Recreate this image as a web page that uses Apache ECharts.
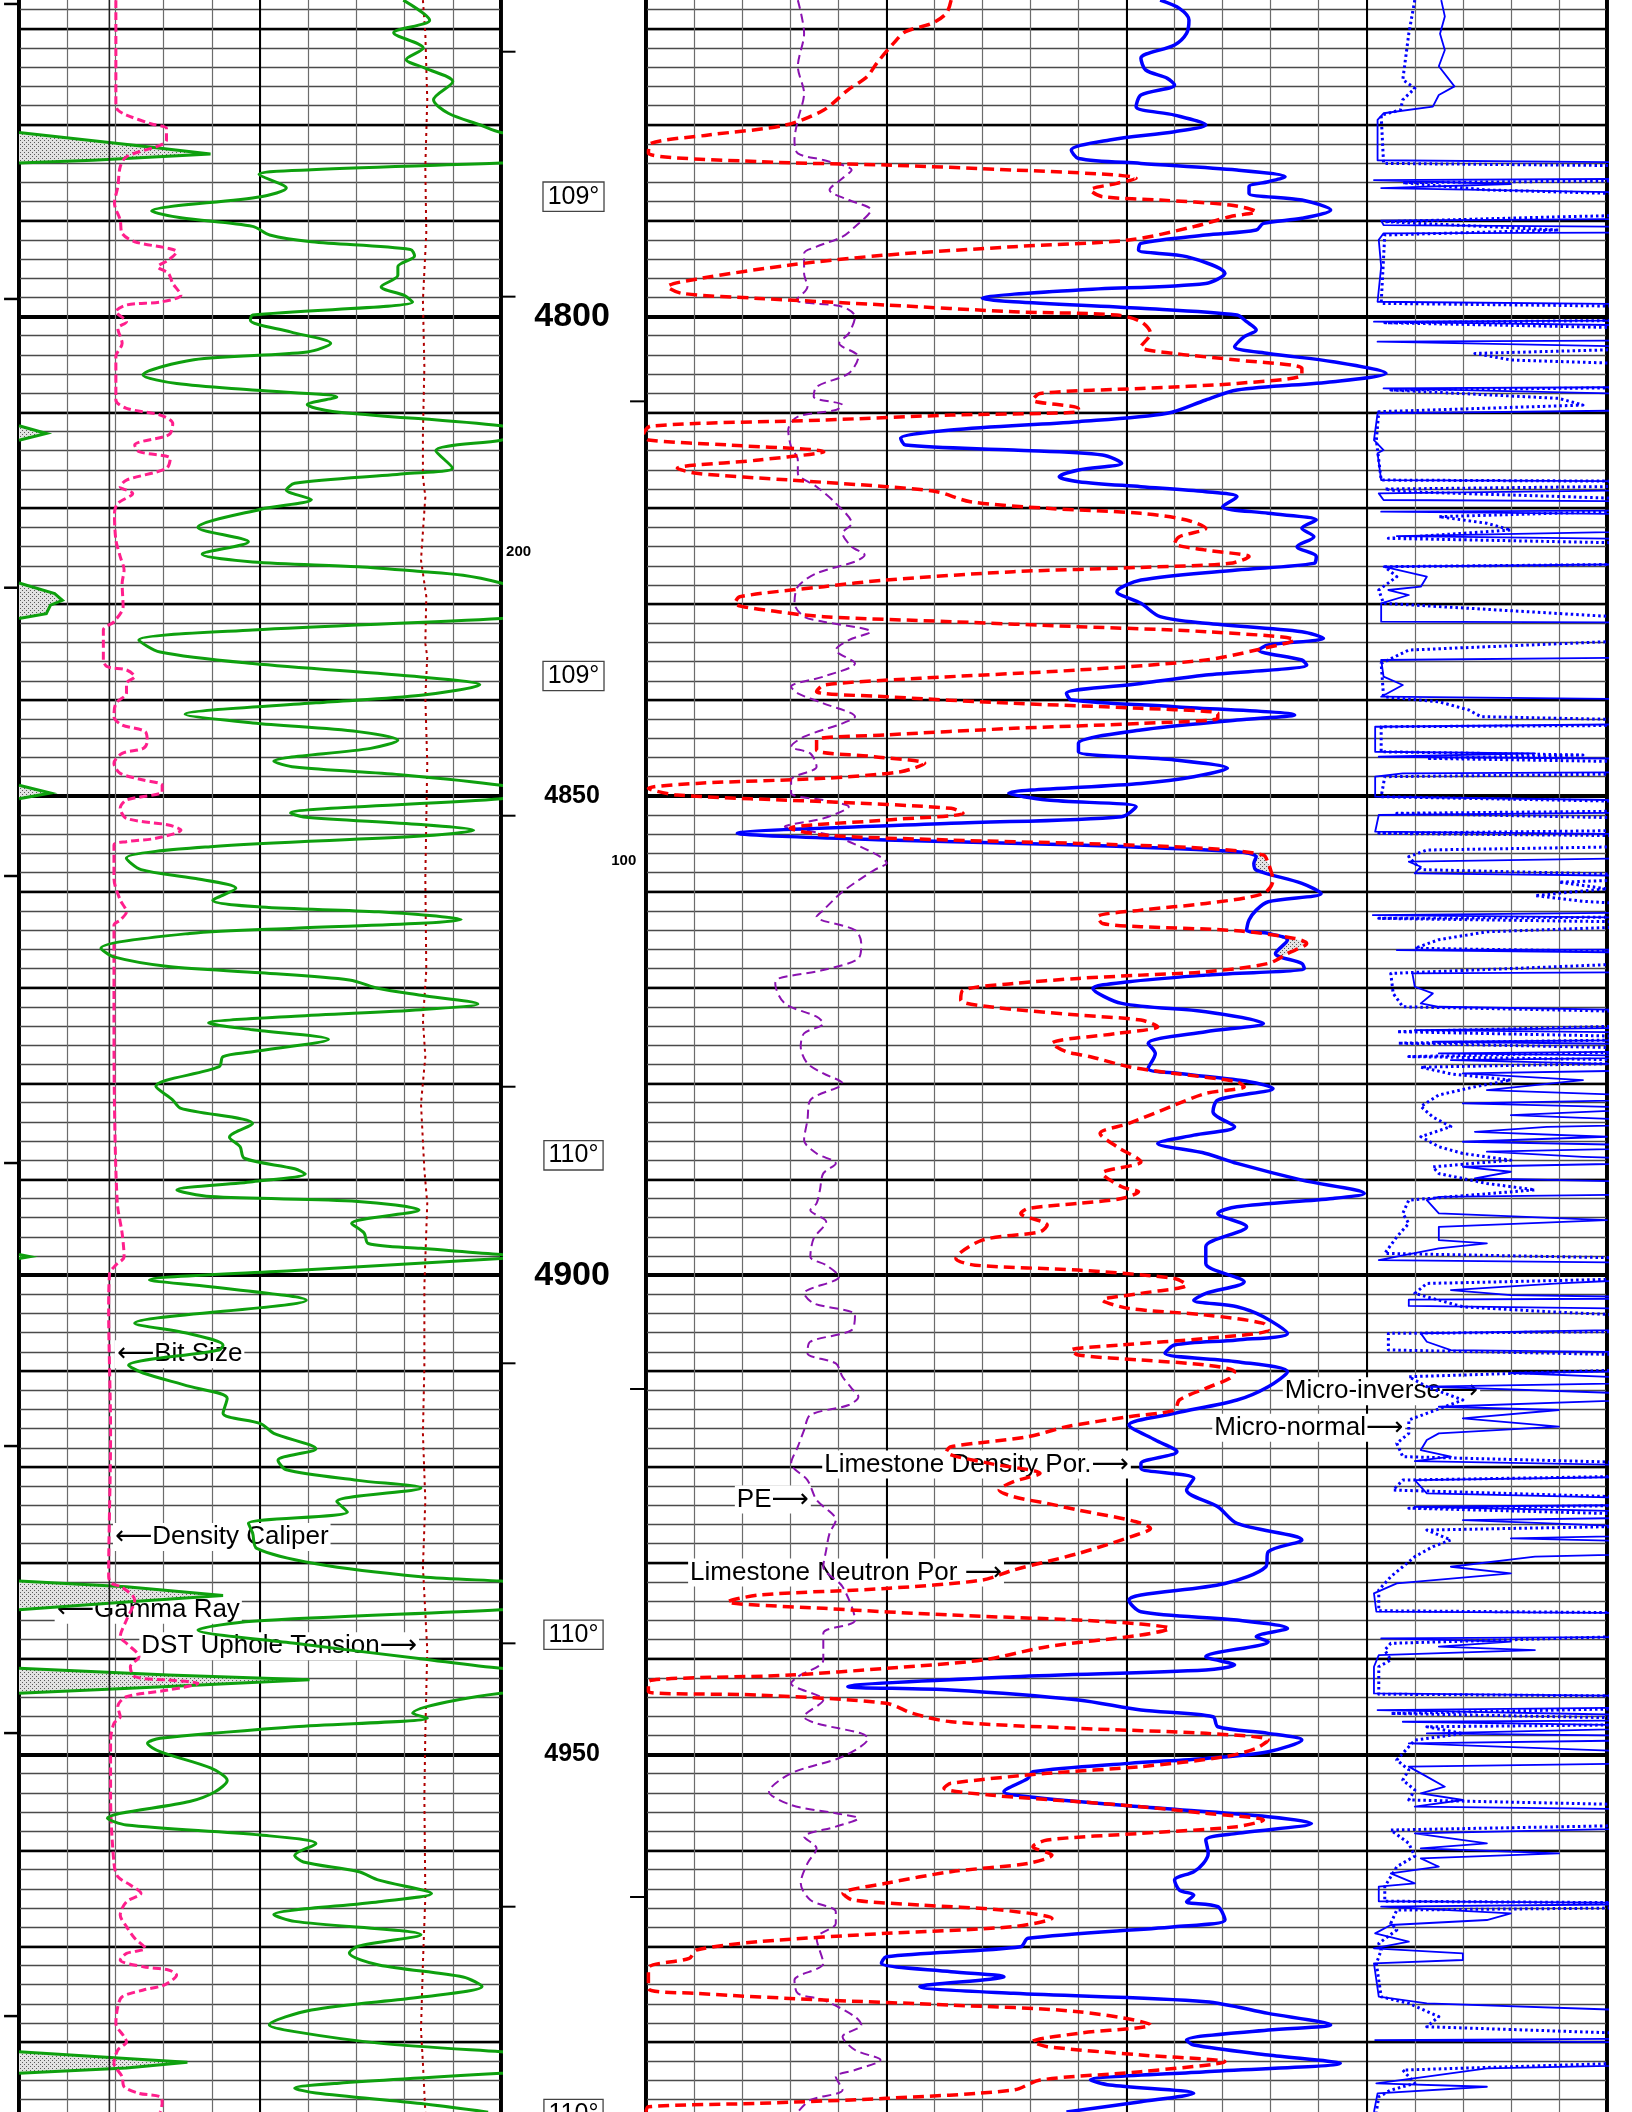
<!DOCTYPE html>
<html>
<head>
<meta charset="utf-8">
<title>Well log 4767-4987 ft</title>
<script src="https://cdn.jsdelivr.net/npm/echarts@6/dist/echarts.min.js"></script>
<style>
  html, body { margin: 0; padding: 0; background: #fff; }
  #log { width: 1632px; height: 2112px; }
</style>
</head>
<body>
<div id="log"></div>
<script>
// ---------------- curve data: [depth ft, value] ----------------

// Gamma ray, API (values above 150 wrap onto the backup scale)
const GAMMA_RAY = [
  [4767.0,119.6],[4769.1,127.8],[4770.4,116.6],[4772.0,125.8],[4773.2,120.5],[4774.1,126.4],[4775.5,135.0],
  [4777.4,129.0],[4778.8,133.6],[4780.0,143.4],[4780.8,150],[4782.3,190],[4783.05,209.6],[4783.7,173],
  [4784.0,150],[4784.7,91],[4785.2,74.7],[4786.6,83.2],[4787.5,75.3],[4789.0,41.3],[4789.7,50.4],
  [4790.6,72.7],[4791.5,78],[4792.2,91],[4793.0,121.8],[4793.7,123.1],[4794.8,117.9],[4795.7,117.9],
  [4796.9,112.7],[4797.8,119.9],[4798.5,122.5],[4799.85,72.7],[4800.4,72],[4801.6,84.5],[4802.8,97],
  [4803.7,89.7],[4804.5,54.4],[4806.1,38.6],[4807.0,49.1],[4807.7,74],[4808.4,98.9],[4809.2,89.7],
  [4809.9,97.6],[4811.4,150],[4812.2,158.5],[4812.9,150],[4814.0,129.7],[4815.8,134.9],[4816.4,119.9],
  [4817.4,85.8],[4818.1,83.2],[4819.1,91],[4820.1,75.3],[4822.0,55.7],[4823.5,71.4],[4824.8,57],
  [4825.6,72.7],[4826.1,105.5],[4826.6,125.1],[4827.0,138.2],[4827.8,150],[4828.9,161.1],[4829.6,163.5],
  [4830.1,159.8],[4831.0,158.5],[4831.5,150],[4832.7,72.7],[4833.75,37.3],[4835.0,43.9],[4836.2,72.7],
  [4837.6,125.1],[4838.4,143.4],[4839.5,125.1],[4840.3,92.4],[4841.5,51.7],[4842.4,72.7],[4843.3,105.5],
  [4844.2,117.9],[4845.05,109.4],[4846.4,79.3],[4847.0,85.8],[4847.8,118.6],[4848.9,150],[4849.7,159.8],
  [4850.3,150],[4851.8,84.5],[4852.2,88.5],[4853.0,125.1],[4853.6,141.5],[4854.2,125.1],[4855.3,59.6],
  [4856.5,33.4],[4857.7,38],[4858.6,54.4],[4859.65,67.5],[4860.9,60.3],[4861.6,75.3],[4862.1,112],
  [4862.9,137.6],[4863.3,125.1],[4863.8,85.8],[4864.35,53.1],[4865.9,25.5],[4866.8,29.5],[4867.8,46.5],
  [4868.45,75.3],[4869.2,102.8],[4870.1,112],[4870.8,125.1],[4871.7,142.8],[4872.3,125.1],[4873.0,85.8],
  [4873.7,59],[4874.4,72.7],[4875.4,96.3],[4876.7,72.7],[4877.2,63.5],[4878.25,62.3],[4880.3,42.6],
  [4881.7,47.8],[4882.6,50.4],[4884.2,72.7],[4885.6,65.5],[4886.6,68.8],[4887.8,70.1],[4888.9,85.8],
  [4889.45,89.1],[4890.25,72.7],[4891.1,49.1],[4891.8,59.6],[4892.3,105.5],[4893.2,124.5],[4894.6,103.5],
  [4895.6,107.4],[4896.7,108.7],[4897.2,125.1],[4897.85,150],[4898.07,153.3],[4898.25,150],[4899.5,85.8],
  [4900.5,40.6],[4901.2,59.6],[4902.6,89.4],[4905.0,36],[4906.1,53.1],[4907.3,63.5],[4907.8,62.3],
  [4909.4,34.1],[4910.2,38.6],[4911.6,53.1],[4912.85,64.8],[4914.4,63.5],[4915.5,75.3],[4916.5,79.3],
  [4918.1,92.4],[4919.3,80.6],[4920.3,83.2],[4921.4,105.5],[4922.2,125.1],[4923.6,98.9],[4924.7,102.2],
  [4925.9,71.4],[4926.9,72.7],[4928.5,74],[4930.1,92.4],[4931.45,125.1],[4931.9,150],[4932.5,183.4],
  [4933.4,213.5],[4934.1,183.4],[4934.9,150],[4936.1,72.7],[4937.0,55.7],[4938.4,85.8],[4940.0,125.1],
  [4941.0,150],[4941.7,196.5],[4942.2,240.4],[4942.9,196.5],[4943.6,150],[4945.7,122.5],[4946.2,127.1],
  [4947.1,85.8],[4948.3,43.9],[4948.83,40],[4949.7,43.9],[4951.4,59.6],[4952.7,64.8],[4953.9,60.9],
  [4954.9,53.1],[4956.65,27.5],[4957.35,33.4],[4958.4,75.3],[4959.3,92.4],[4960.5,85.8],[4961.2,88.5],
  [4962.2,105.5],[4963.1,112],[4964.5,128.4],[4965.35,112],[4966.7,79.3],[4967.4,85.8],[4968.8,125.1],
  [4970.0,105.5],[4970.7,102.8],[4971.95,112],[4973.2,138.2],[4974.2,144.1],[4975.3,125.1],[4976.65,91],
  [4978.2,77.9],[4978.9,85.8],[4980.1,112],[4981.0,150],[4981.7,183.4],[4982.1,202.4],[4982.7,183.4],
  [4983.25,150],[4984.3,98.9],[4984.8,85.8],[4985.3,92.4],[4986.4,125.1],[4987.3,146]
];

// Density caliper, inches
const DENSITY_CALIPER = [
  [4767.0,8.01],[4777.94,8.01],[4778.46,8.05],[4778.99,8.23],[4779.92,8.75],[4780.38,9.06],[4781.59,9.06],
  [4783.33,8.23],[4784.38,8.10],[4786.46,8.05],[4788.2,7.98],[4789.94,8.10],[4791.33,8.14],[4792.2,8.40],
  [4792.89,9.10],[4793.24,9.27],[4794.11,9.10],[4794.81,8.88],[4795.5,9.10],[4796.55,9.19],[4797.76,9.36],
  [4798.46,8.97],[4798.8,8.23],[4799.5,8.01],[4800.54,8.23],[4801.24,8.05],[4802.8,8.14],[4804.19,8.01],
  [4808.71,8.01],[4809.58,8.23],[4810.28,8.93],[4811.15,9.19],[4812.19,9.14],[4812.54,9.01],[4813.4,8.40],
  [4814.1,8.49],[4814.8,9.14],[4815.84,9.06],[4817.06,8.23],[4817.75,8.10],[4818.45,8.36],[4819.49,8.05],
  [4820.53,7.98],[4823.31,8.01],[4825.05,8.10],[4826.44,8.18],[4827.83,8.14],[4830.27,8.16],[4831.83,7.97],
  [4832.7,7.75],[4835.83,7.75],[4836.53,7.83],[4836.87,8.23],[4837.57,8.40],[4838.27,8.23],[4839.31,8.23],
  [4840.35,8.01],[4841.74,7.97],[4842.61,8.14],[4843.31,8.62],[4844.35,8.66],[4845.05,8.58],[4845.57,8.14],
  [4846.61,7.97],[4847.65,8.10],[4848.35,8.58],[4848.87,8.97],[4849.57,8.97],[4850.44,8.23],[4851.3,8.10],
  [4852.35,8.23],[4853.04,9.10],[4853.57,9.36],[4854.43,8.84],[4854.78,8.23],[4855.13,7.97],[4858.61,7.97],
  [4860.87,8.10],[4862.09,8.23],[4862.96,8.10],[4863.48,7.97],[4871.65,7.97],[4882.08,7.98],[4892.51,8.04],
  [4895.64,8.14],[4898.07,8.18],[4898.94,8.01],[4899.81,7.88],[4903.64,7.86],[4916.5,7.90],[4931.45,7.86],
  [4932.15,7.92],[4932.56,8.14],[4933.88,8.40],[4935.97,8.23],[4937.71,8.10],[4938.4,8.23],[4939.79,8.49],
  [4940.84,8.31],[4941.88,8.40],[4942.23,9.10],[4942.58,9.71],[4943.27,9.10],[4943.97,8.23],[4945.01,8.05],
  [4946.06,8.10],[4946.75,7.97],[4948.49,7.90],[4954.39,7.90],[4961.35,7.97],[4962.74,8.05],[4963.61,8.31],
  [4964.48,8.53],[4965.35,8.23],[4966.74,8.10],[4967.95,8.23],[4969.17,8.40],[4970.21,8.62],[4970.74,8.23],
  [4971.43,8.10],[4972.13,8.58],[4972.47,9.10],[4973.0,9.27],[4974.04,9.01],[4974.56,8.58],[4975.26,8.14],
  [4976.3,8.05],[4978.04,8.01],[4979.43,8.18],[4979.95,8.23],[4980.82,8.05],[4982.21,7.97],[4983.6,8.14],
  [4984.65,8.18],[4985.34,8.49],[4985.69,8.93],[4986.38,8.97],[4987.28,8.93]
];

// Bit size, inches
const BIT_SIZE = 7.875;

// DST uphole tension, lbs
const DST_TENSION = [
  [4767.0,8380],[4770.5,8430],[4777.4,8470],[4784.4,8430],[4791.3,8450],[4798.3,8380],[4805.2,8410],
  [4812.2,8380],[4816.7,8380],[4818.8,8430],[4825.4,8340],[4829.2,8450],[4834.1,8430],[4835.5,8470],
  [4839.7,8430],[4846.6,8470],[4858.6,8430],[4868.2,8450],[4873.4,8380],[4877.2,8430],[4882.1,8340],
  [4889.0,8410],[4892.5,8470],[4901.2,8410],[4909.5,8410],[4916.5,8380],[4923.5,8430],[4930.4,8380],
  [4939.1,8470],[4947.8,8430],[4954.4,8410],[4964.8,8430],[4971.8,8380],[4978.7,8340],[4982.2,8380],
  [4987.3,8430]
];

// Limestone neutron porosity, %
const NEUTRON_POR = [
  [4767.0,17.3],[4768.38,17.5],[4769.42,18.1],[4770.29,19.2],[4771.51,19.7],[4773.6,20.4],[4774.99,20.8],
  [4776.38,21.6],[4778.46,22.6],[4780.03,24.2],[4781.07,27.4],[4781.94,29.8],[4782.98,29.9],[4783.85,25.3],
  [4784.2,20.0],[4784.72,14.7],[4785.24,10.4],[4785.59,9.6],[4786.11,10.4],[4786.81,11.5],[4787.5,11.0],
  [4787.85,8.6],[4788.37,5.7],[4789.07,4.6],[4789.59,5.7],[4790.63,7.2],[4792.02,9.9],[4792.72,14.7],
  [4793.59,20.0],[4794.63,24.0],[4796.02,27.7],[4796.89,29.1],[4797.59,28.5],[4798.11,25.3],[4798.8,20.0],
  [4799.5,14.7],[4799.85,10.4],[4800.54,9.4],[4801.76,9.0],[4803.15,9.4],[4803.85,8.0],[4804.54,5.4],
  [4805.41,2.7],[4806.11,2.7],[4806.98,5.4],[4807.5,9.4],[4808.02,13.6],[4808.71,13.9],[4809.58,12.0],
  [4809.93,12.0],[4810.28,17.3],[4810.8,22.6],[4811.43,29.8],[4812.3,30.1],[4812.88,29.9],[4813.4,26.6],
  [4814.1,22.6],[4814.97,25.3],[4815.84,28.7],[4816.36,27.9],[4817.06,24.0],[4817.75,20.0],[4818.27,17.9],
  [4819.32,16.5],[4820.01,13.3],[4820.53,9.4],[4821.23,7.5],[4822.1,6.7],[4822.97,7.8],[4823.66,8.0],
  [4824.36,6.7],[4825.05,4.9],[4825.75,5.7],[4826.17,9.4],[4826.62,14.7],[4827.49,20.0],[4828.18,22.6],
  [4829.23,26.1],[4829.92,26.3],[4830.79,24.5],[4831.31,22.6],[4831.83,17.3],[4832.35,12.0],[4832.88,6.7],
  [4833.75,3.0],[4834.79,4.6],[4835.83,6.7],[4836.87,12.0],[4837.74,18.6],[4838.44,22.6],[4839.13,22.9],
  [4839.66,20.0],[4840.35,14.7],[4840.87,9.4],[4841.4,6.2],[4841.92,6.2],[4842.44,9.4],[4842.96,14.7],
  [4843.65,20.0],[4844.18,22.9],[4845.22,22.9],[4845.91,20.5],[4846.61,18.4],[4847.48,19.4],[4848.17,22.6],
  [4848.7,27.9],[4849.22,29.9],[4849.91,28.7],[4850.61,22.6],[4851.3,17.3],[4851.82,16.8],[4852.52,20.0],
  [4853.39,24.0],[4854.09,22.6],[4854.61,17.3],[4854.96,12.0],[4855.48,6.7],[4856.17,4.3],[4857.04,4.1],
  [4857.74,4.0],[4858.79,3.9],[4860.18,4.3],[4861.22,6.7],[4861.92,9.4],[4862.61,11.2],[4863.31,11.0],
  [4863.65,9.4],[4864.07,5.4],[4864.87,3.0],[4865.39,2.5],[4866.44,3.3],[4867.48,4.1],[4868.35,6.7],
  [4868.7,9.4],[4869.04,12.0],[4869.57,14.7],[4870.26,16.8],[4871.3,16.9],[4872.0,15.7],[4872.87,12.0],
  [4873.39,9.4],[4874.09,8.7],[4874.78,10.4],[4875.82,13.1],[4876.69,12.5],[4877.21,11.5],[4878.26,9.9],
  [4878.95,8.0],[4879.82,5.4],[4880.34,5.1],[4881.04,6.7],[4882.26,8.0],[4884.17,9.9],[4885.21,11.1],
  [4886.6,10.4],[4888.17,9.4],[4889.38,11.0],[4890.78,10.2],[4891.3,9.5],[4892.0,10.2],[4892.51,12.0],
  [4893.04,14.1],[4893.56,14.4],[4894.77,13.3],[4895.47,13.6],[4896.34,16.0],[4898.25,17.1],[4898.95,16.3],
  [4899.47,12.0],[4900.34,8.0],[4901.03,7.5],[4901.9,9.4],[4902.6,11.0],[4903.46,9.9],[4904.15,6.7],
  [4905.02,4.3],[4905.72,4.1],[4906.59,6.7],[4907.28,10.2],[4907.81,12.3],[4908.33,12.0],[4908.85,9.4],
  [4909.37,6.7],[4910.07,5.5],[4910.76,5.7],[4911.8,6.7],[4913.02,7.8],[4914.06,8.0],[4914.76,9.9],
  [4915.8,12.5],[4916.85,14.1],[4917.89,17.3],[4918.41,17.5],[4919.63,15.7],[4920.67,13.6],[4921.54,14.7],
  [4922.41,15.3],[4923.11,14.7],[4923.8,13.3],[4924.5,12.0],[4925.71,9.6],[4926.41,9.0],[4927.1,9.6],
  [4929.02,12.0],[4930.75,14.7],[4931.8,16.0],[4932.67,20.0],[4933.36,25.3],[4934.06,26.6],[4934.75,22.6],
  [4935.45,17.3],[4935.97,12.0],[4936.39,9.4],[4936.84,8.2],[4937.53,9.4],[4938.75,13.3],[4940.14,16.0],
  [4941.01,20.0],[4941.71,24.0],[4942.4,29.9],[4943.45,29.9],[4943.79,25.3],[4944.66,20.0],[4945.71,18.9],
  [4946.58,17.3],[4947.27,12.0],[4947.79,6.7],[4948.48,4.1],[4949.35,4.6],[4950.22,5.9],[4951.26,9.4],
  [4951.96,13.3],[4953.0,17.3],[4953.52,17.6],[4954.22,15.7],[4954.92,12.0],[4955.44,9.4],[4956.13,6.7],
  [4956.83,4.3],[4957.52,5.4],[4958.22,9.4],[4958.91,13.3],[4959.61,13.9],[4960.48,13.1],[4961.35,14.1],
  [4962.22,17.3],[4963.43,20.0],[4964.48,21.8],[4965.17,21.4],[4965.69,18.6],[4966.22,15.2],[4967.08,13.1],
  [4967.95,14.7],[4968.65,20.0],[4969.52,25.3],[4970.39,27.9],[4971.26,28.2],[4972.3,29.9],[4974.39,29.9],
  [4974.91,27.9],[4975.6,22.6],[4976.13,17.3],[4976.82,12.0],[4978.21,9.0],[4979.08,12.0],[4979.95,13.9],
  [4980.47,13.3],[4981.34,9.4],[4982.04,5.9],[4983.08,9.4],[4983.95,13.6],[4984.99,14.7],[4985.86,20.0],
  [4986.38,25.3],[4986.73,29.9],[4987.28,30.0]
];

// Limestone density porosity, %
const DENSITY_POR = [
  [4767.0,8.6],[4767.86,7.8],[4769.08,7.4],[4770.47,7.5],[4771.68,8.0],[4773.07,9.4],[4774.29,9.2],
  [4775.16,8.3],[4775.86,8.0],[4776.9,9.4],[4778.12,9.6],[4778.99,8.0],[4780.03,6.7],[4780.72,8.0],
  [4781.59,10.7],[4782.64,12.3],[4783.51,12.0],[4784.03,9.4],[4784.72,5.4],[4785.42,3.4],[4785.94,4.1],
  [4786.46,4.9],[4787.16,4.9],[4787.85,2.7],[4788.9,1.5],[4789.76,2.7],[4790.29,4.3],[4790.98,4.6],
  [4791.5,6.7],[4792.37,9.4],[4793.07,9.5],[4793.76,7.5],[4795.5,5.9],[4796.55,6.7],[4797.24,12.0],
  [4798.11,16.0],[4798.46,14.7],[4799.15,9.4],[4799.85,5.4],[4800.54,5.0],[4801.41,4.6],[4802.11,5.1],
  [4803.15,5.5],[4803.85,4.1],[4804.72,1.4],[4805.93,-0.8],[4806.8,1.4],[4807.67,5.4],[4808.71,6.7],
  [4810.1,8.3],[4810.97,12.0],[4811.84,17.3],[4812.71,19.4],[4813.4,19.2],[4813.93,14.7],[4814.45,11.0],
  [4815.32,10.2],[4816.01,12.0],[4816.71,12.8],[4817.23,12.0],[4817.75,9.4],[4818.27,6.7],[4818.8,5.4],
  [4819.84,6.0],[4820.53,4.1],[4821.23,2.1],[4822.1,2.7],[4822.97,2.2],[4824.01,2.9],[4825.05,2.1],
  [4825.75,2.2],[4826.44,5.4],[4827.49,9.4],[4828.7,10.4],[4829.92,9.4],[4831.31,8.6],[4832.0,6.7],
  [4832.88,2.7],[4833.57,1.8],[4834.27,4.1],[4834.79,4.5],[4835.83,2.7],[4836.35,2.5],[4837.4,6.7],
  [4838.27,9.4],[4839.31,12.5],[4840.0,12.3],[4840.7,8.0],[4841.57,3.0],[4842.09,5.4],[4843.13,9.4],
  [4844.52,12.0],[4845.39,12.0],[4846.26,8.0],[4847.13,5.8],[4848.0,7.2],[4848.7,9.4],[4849.74,14.9],
  [4850.44,13.3],[4851.13,9.6],[4852.17,10.2],[4852.87,17.3],[4853.91,26.2],[4854.61,20.0],[4855.13,12.0],
  [4855.82,5.4],[4856.35,4.6],[4857.04,4.7],[4857.74,4.6],[4859.13,2.7],[4860.18,1.9],[4861.05,4.1],
  [4861.92,4.6],[4862.96,4.9],[4864.0,5.0],[4864.35,4.1],[4865.04,3.3],[4866.44,3.8],[4867.48,2.7],
  [4868.0,2.6],[4868.7,6.7],[4869.39,9.9],[4870.09,11.4],[4871.65,10.2],[4872.52,6.7],[4873.74,4.3],
  [4874.61,6.7],[4875.82,9.1],[4876.87,8.8],[4878.43,9.1],[4878.95,7.8],[4879.82,4.9],[4880.52,3.9],
  [4881.73,6.2],[4882.95,6.4],[4884.52,5.5],[4885.39,7.2],[4886.26,8.7],[4887.3,6.7],[4888.34,5.4],
  [4890.08,2.7],[4891.47,0.1],[4891.99,1.4],[4892.86,5.4],[4893.56,6.2],[4894.95,5.0],[4897.03,6.7],
  [4898.77,6.7],[4900.69,5.1],[4901.9,6.7],[4902.6,7.2],[4903.29,5.4],[4904.33,4.3],[4906.07,3.3],
  [4906.76,5.4],[4907.28,8.0],[4908.15,8.4],[4909.02,5.4],[4910.07,3.3],[4911.63,4.1],[4913.02,5.4],
  [4914.41,8.0],[4915.63,9.9],[4917.19,8.8],[4918.41,7.9],[4919.63,9.4],[4920.15,9.4],[4921.19,7.2],
  [4922.41,7.5],[4924.15,6.2],[4925.89,5.4],[4927.62,2.7],[4928.84,4.1],[4930.41,4.2],[4932.15,5.9],
  [4933.36,9.4],[4933.88,9.9],[4935.1,9.4],[4935.97,5.4],[4936.84,3.3],[4937.71,4.6],[4938.23,4.1],
  [4939.79,6.7],[4940.66,5.5],[4941.18,6.7],[4941.88,14.7],[4942.92,21.6],[4943.27,17.3],[4944.31,12.0],
  [4945.36,9.4],[4946.06,6.4],[4947.1,6.2],[4947.79,4.1],[4948.48,2.7],[4949.7,4.1],[4950.4,6.7],
  [4950.92,9.9],[4951.79,13.9],[4952.48,14.1],[4953.87,15.1],[4954.39,14.1],[4955.44,9.4],[4956.48,4.1],
  [4957.18,2.3],[4958.22,5.4],[4958.91,6.7],[4960.31,6.6],[4961.35,6.8],[4962.22,7.2],[4963.09,8.0],
  [4964.13,7.8],[4964.65,7.2],[4965.35,7.5],[4965.87,6.2],[4967.26,5.9],[4967.95,8.0],[4969.17,14.1],
  [4970.04,14.4],[4971.08,20.0],[4971.78,20.2],[4972.65,17.3],[4973.17,15.1],[4974.21,18.6],[4974.91,14.7],
  [4975.78,6.7],[4977.0,4.1],[4978.21,1.5],[4978.74,4.1],[4979.78,7.5],[4980.3,7.2],[4981.34,4.1],
  [4982.21,1.1],[4983.08,6.7],[4983.95,11.5],[4984.47,10.7],[4985.34,7.2],[4986.21,9.4],[4987.28,12.5]
];

// Photoelectric factor, b/e
const PE = [
  [4767.0,3.16],[4770.47,3.29],[4773.94,3.16],[4776.73,3.29],[4779.51,3.16],[4781.59,3.09],[4782.98,3.16],
  [4783.68,3.69],[4784.72,4.28],[4785.59,4.09],[4786.81,3.82],[4787.85,4.22],[4788.9,4.68],[4790.63,4.35],
  [4791.68,4.09],[4792.72,3.55],[4793.42,3.29],[4795.5,3.29],[4796.89,3.36],[4798.28,3.13],[4798.98,4.09],
  [4800.02,4.35],[4801.76,4.22],[4802.8,4.02],[4804.19,4.42],[4805.93,4.22],[4807.32,3.55],[4808.37,3.49],
  [4809.23,4.09],[4809.76,3.95],[4810.45,3.16],[4811.84,2.96],[4813.58,3.02],[4814.97,3.16],[4816.36,3.16],
  [4817.75,3.55],[4819.49,3.95],[4821.58,4.28],[4822.62,4.09],[4824.01,4.28],[4824.88,4.55],[4825.57,4.35],
  [4826.79,3.55],[4828.18,3.16],[4829.92,3.09],[4831.31,3.29],[4831.83,3.69],[4832.88,4.68],[4833.75,4.22],
  [4834.79,3.95],[4836.18,4.35],[4837.57,3.69],[4838.61,3.02],[4839.31,3.16],[4840.35,3.69],[4841.74,4.35],
  [4842.44,4.09],[4843.83,3.29],[4844.87,3.02],[4845.57,3.42],[4846.96,3.55],[4848.35,3.02],[4849.74,3.02],
  [4850.44,3.69],[4851.13,4.22],[4852.35,3.69],[4853.22,2.89],[4853.57,3.29],[4854.26,3.95],[4856.0,4.75],
  [4857.0,5.01],[4857.74,4.75],[4860.0,4.09],[4861.92,3.69],[4862.61,3.55],[4864.0,4.35],[4865.39,4.48],
  [4866.96,4.42],[4868.17,3.69],[4869.04,2.76],[4869.57,2.69],[4871.65,2.89],[4873.04,3.55],[4873.74,3.69],
  [4874.78,3.29],[4876.17,3.22],[4877.91,3.36],[4878.95,3.69],[4880.0,4.09],[4881.73,3.42],[4883.82,3.36],
  [4885.91,3.29],[4887.3,3.55],[4888.34,3.95],[4889.38,3.69],[4891.12,3.62],[4892.51,3.55],[4893.21,3.42],
  [4894.43,3.75],[4896.16,3.49],[4898.08,3.42],[4898.95,3.75],[4900.16,4.02],[4901.9,3.29],[4902.94,3.49],
  [4904.15,4.35],[4905.72,4.28],[4906.94,3.42],[4908.15,3.36],[4909.2,3.95],[4910.59,4.09],[4911.8,4.28],
  [4912.67,4.42],[4913.54,4.22],[4914.58,3.42],[4916.15,3.29],[4917.89,3.16],[4919.63,3.02],[4921.37,3.36],
  [4923.45,3.55],[4925.54,3.95],[4926.93,3.82],[4928.67,3.75],[4930.41,3.69],[4932.49,4.09],[4935.97,4.35],
  [4937.36,3.69],[4940.14,3.69],[4941.88,3.16],[4942.58,3.02],[4944.31,3.69],[4946.06,3.29],[4946.75,3.55],
  [4947.79,4.48],[4948.31,4.62],[4950.22,4.09],[4951.96,3.02],[4953.87,2.56],[4955.26,3.02],[4956.13,3.95],
  [4956.65,4.42],[4957.52,3.95],[4958.57,3.29],[4959.78,3.55],[4961.35,3.36],[4963.43,3.22],[4965.17,3.42],
  [4966.39,3.95],[4967.61,3.95],[4969.17,3.55],[4971.78,3.69],[4973.52,3.09],[4974.91,3.16],[4975.6,3.69],
  [4977.34,4.35],[4978.21,4.48],[4979.43,4.09],[4980.82,4.35],[4981.86,4.88],[4982.91,4.35],[4983.6,3.95],
  [4984.99,4.09],[4986.03,3.42],[4987.28,3.16]
];

// Micro-inverse, ohm-m
const MICRO_INVERSE = [
  [4767.0,6.2],[4768.7,6.5],[4770.5,6.1],[4772.2,6.5],[4773.9,6.0],[4776.0,7.3],[4776.9,6.0],[4778.1,5.5],
  [4778.8,1.4],[4779.5,0.9],[4783.7,0.9],[4784.0,30],[4785.6,30],[4785.77,0.6],[4786.18,12],[4786.6,1.2],
  [4787.26,30],[4789.76,30],[4790.0,1.2],[4790.46,1.4],[4790.7,30],[4791.2,30],[4791.33,1.4],[4792.0,1.0],
  [4794.8,1.2],[4798.46,0.9],[4798.8,30],[4800.37,30],[4800.54,0.6],[4801.06,30],[4802.46,30],[4802.63,0.9],
  [4803.32,30],[4807.32,30],[4807.5,1.4],[4808.3,30],[4809.69,30],[4810.1,0.9],[4812.9,0.6],[4813.93,1.4],
  [4814.27,0.9],[4817.06,1.2],[4817.23,30],[4818.03,30],[4818.45,1.0],[4819.14,1.4],[4819.32,30],[4820.18,30],
  [4820.36,1.2],[4820.71,30],[4822.27,30],[4822.9,2.5],[4823.31,30],[4825.75,30],[4826.1,1.4],[4827.14,5.0],
  [4828.18,4.5],[4828.53,1.8],[4829.05,3.5],[4829.92,1.2],[4831.83,1.2],[4831.94,30],[4835.48,30],[4835.83,1.2],
  [4837.57,1.4],[4838.44,3.0],[4839.66,1.2],[4840.0,30],[4842.44,30],[4842.79,0.7],[4845.4,0.7],[4845.57,14],
  [4845.92,1.0],[4846.2,30],[4847.5,30],[4847.65,3.0],[4848.0,0.7],[4850.09,0.7],[4850.61,30],[4851.65,30],
  [4852.0,1.0],[4853.74,0.7],[4854.08,30],[4856.35,30],[4856.87,3.5],[4857.4,4.5],[4858.09,4.0],[4858.44,30],
  [4862.09,30],[4862.44,0.5],[4862.78,30],[4866.0,30],[4866.09,2.5],[4866.44,30],[4868.35,30],[4868.52,3.8],
  [4869.91,4.0],[4870.61,5.5],[4871.65,4.5],[4872.0,6],[4872.52,30],[4874.09,30],[4874.43,4],[4874.78,30],
  [4875.4,30],[4875.65,5.5],[4876.0,30],[4876.6,30],[4876.87,6],[4877.21,30],[4877.4,30],[4877.56,7],
  [4878.26,30],[4878.5,30],[4878.95,8],[4879.65,18],[4880.69,10],[4881.56,30],[4882.08,8],[4882.6,25],
  [4883.3,12],[4884.17,30],[4884.52,15],[4885.04,9],[4885.56,20],[4886.08,8],[4886.6,30],[4887.12,10],
  [4887.65,18],[4888.17,30],[4888.69,8],[4889.21,12],[4889.91,9],[4890.43,30],[4891.47,30],[4891.82,6],
  [4892.17,5],[4893.56,6],[4894.25,20],[4894.95,6],[4896.34,6],[4896.69,10],[4897.21,6],[4898.43,1.0],
  [4898.77,30],[4900.0,30],[4900.86,16],[4901.55,7],[4902.07,12],[4902.4,30],[4902.55,3.5],[4903.2,3.5],
  [4903.63,30],[4905.5,30],[4906.07,4.5],[4906.94,5],[4907.81,7],[4908.15,30],[4909.89,30],[4910.2,12],
  [4911.11,30],[4911.63,5],[4912.67,30],[4913.72,6],[4914.06,16],[4914.93,8],[4915.8,16],[4916.5,6],
  [4917.19,5],[4918.24,4.5],[4918.93,7],[4919.4,4],[4919.98,30],[4920.9,30],[4921.37,4],[4922.76,5],
  [4923.45,30],[4923.9,30],[4924.15,4],[4924.84,30],[4925.2,30],[4925.54,8],[4926.58,30],[4927.0,30],
  [4927.45,12],[4927.97,30],[4928.9,30],[4929.36,14],[4930.41,7],[4931.1,12],[4932.15,2.5],[4933.19,0.6],
  [4935.1,0.8],[4935.28,30],[4937.7,30],[4937.88,1.2],[4938.23,12],[4938.75,6],[4939.1,14],[4939.62,1.0],
  [4940.84,0.6],[4943.62,0.6],[4943.97,30],[4945.0,30],[4945.36,0.9],[4946.06,30],[4946.4,30],[4946.58,3.0],
  [4947.1,30],[4947.8,5],[4948.14,30],[4948.4,30],[4948.83,3.5],[4950.05,30],[4950.8,30],[4951.26,3.5],
  [4952.3,5],[4953.35,6.5],[4954.05,4.5],[4954.74,8],[4955.44,4],[4955.79,30],[4957.52,30],[4958.22,4],
  [4959.26,10],[4959.78,4.5],[4960.31,16],[4960.83,4.5],[4961.7,6],[4962.39,2],[4963.43,4],[4963.78,1.0],
  [4965.3,1.0],[4965.52,30],[4965.7,30],[4965.87,1.2],[4966.56,12],[4967.26,10],[4967.78,2],[4968.65,0.7],
  [4969.52,3.5],[4970.21,0.6],[4970.74,8],[4971.43,8],[4971.78,0.6],[4975.26,1.0],[4975.96,5],[4977.0,30],
  [4979.6,30],[4979.78,0.7],[4980.12,30],[4982.21,30],[4982.73,10],[4983.6,5],[4984.3,0.8],[4984.65,10],
  [4985.34,0.9],[4987.28,0.6]
];

// Micro-normal, ohm-m
const MICRO_NORMAL = [
  [4767.0,4.0],[4770.5,3.5],[4775.3,3.0],[4776.2,4.0],[4777.4,3.0],[4778.46,2.8],[4779.0,1.2],[4784.03,1.4],
  [4784.37,30],[4785.77,30],[4786.04,3],[4786.8,10],[4787.5,30],[4789.24,30],[4789.6,16],[4790.11,1.5],
  [4790.98,16],[4791.5,1.5],[4798.63,1.2],[4799.05,30],[4800.3,30],[4800.65,1.5],[4801.4,30],[4803.15,30],
  [4803.85,9],[4804.54,12],[4805.24,30],[4807.32,30],[4807.67,2],[4808.54,16],[4809.24,18],[4809.93,1.0],
  [4812.9,0.8],[4817.06,1.2],[4817.23,30],[4817.6,30],[4818.0,1.5],[4818.27,3],[4819.32,30],[4820.0,30],
  [4820.88,6],[4821.57,10],[4822.27,12],[4823.14,1.8],[4823.83,30],[4825.75,30],[4826.1,1.5],[4827.14,2.5],
  [4828.53,1.0],[4829.92,1.4],[4832.0,30],[4833.4,30],[4834.79,3.5],[4836.18,1.2],[4839.66,1.4],[4840.18,6],
  [4841.05,8.5],[4841.74,9.5],[4842.27,30],[4842.6,30],[4842.79,1.2],[4845.4,1.2],[4845.74,18],[4846.09,5],
  [4846.61,30],[4847.6,30],[4848.0,1.5],[4850.09,1.2],[4850.78,30],[4851.5,30],[4851.82,2.5],[4852.52,30],
  [4853.5,30],[4853.91,1.0],[4854.26,30],[4855.13,30],[4855.65,5],[4856.35,3.5],[4857.04,4],[4857.7,4.5],
  [4858.44,30],[4859.0,16],[4859.7,20],[4860.4,14],[4861.0,18],[4861.9,30],[4862.6,30],[4862.78,1.0],
  [4863.3,30],[4864.18,10],[4865.0,6],[4865.9,4],[4866.4,30],[4867.1,30],[4868.52,2.0],[4870.61,2.2],
  [4872.0,3.0],[4872.7,30],[4873.74,30],[4874.6,2.5],[4875.3,30],[4875.8,2.6],[4876.5,30],[4877.2,3.5],
  [4877.7,30],[4878.3,4.5],[4879.0,7],[4879.65,12],[4880.35,9],[4881.2,6],[4882.4,4.5],[4883.5,5.5],
  [4884.5,7],[4885.56,4.5],[4886.6,6],[4887.3,8],[4888.0,12],[4888.7,5.5],[4889.4,6],[4890.43,10],
  [4891.1,14],[4892.17,3.5],[4893.56,3.0],[4894.6,3.5],[4896.0,2.5],[4897.73,1.5],[4898.4,30],[4900.16,30],
  [4900.86,5],[4901.9,4],[4902.6,6],[4903.3,8],[4903.8,15],[4904.68,30],[4905.8,30],[4906.07,1.8],
  [4907.8,1.8],[4908.5,30],[4909.54,30],[4910.59,3.5],[4911.63,5],[4913.02,8],[4914.41,5],[4915.1,3.5],
  [4916.5,3.5],[4917.54,2.5],[4918.93,3.0],[4919.8,30],[4920.8,30],[4921.37,3.0],[4922.41,2.2],[4923.45,30],
  [4923.9,30],[4924.3,3.5],[4925.19,30],[4926.0,30],[4926.58,5],[4927.62,7],[4928.32,5.5],[4929.36,4],
  [4930.41,3.0],[4931.45,2.0],[4932.84,1.0],[4935.0,1.0],[4935.28,30],[4937.36,30],[4938.4,2.0],[4939.1,1.5],
  [4940.14,2.0],[4940.84,1.0],[4943.7,1.0],[4943.97,30],[4945.0,30],[4945.71,2.0],[4946.4,30],[4946.8,30],
  [4947.1,5],[4947.8,8],[4948.5,4],[4950.57,2.5],[4951.6,3.5],[4952.66,3.0],[4953.7,4],[4954.74,3.5],
  [4955.44,30],[4957.2,30],[4957.87,2],[4959.26,3.5],[4960.6,4],[4961.7,2.5],[4962.74,2],[4963.78,1.5],
  [4965.3,1.5],[4965.52,30],[4965.9,30],[4966.22,2.5],[4967.61,2.0],[4968.3,2.5],[4969.7,1.0],[4970.4,1.2],
  [4971.8,0.8],[4975.26,1.2],[4975.96,3.5],[4977.34,6],[4978.39,5],[4979.43,30],[4981.86,30],[4982.91,3.0],
  [4983.6,3.5],[4984.3,4],[4985.0,2],[4985.7,1.0],[4987.28,0.8]
];

// Depth intervals where density porosity crosses over neutron porosity (shaded)
const CROSSOVER_ZONES = [[4855.5, 4858.6], [4864.3, 4867.3]];

// ---------------- depth track content ----------------
const DEPTH_LABELS = [4800, 4850, 4900, 4950];
const DEPTH_LABEL_MAJOR = [true, false, true, false];
const TEMP_DEPTHS = [4787.5, 4837.5, 4887.5, 4937.5, 4987.5];
const TEMP_LABELS = ['109°', '109°', '110°', '110°', '110°'];
const EDGE_MARKS = [4767.4, 4798.17, 4828.29, 4858.36, 4888.3, 4917.82, 4947.76, 4977.28];
const DEPTH_TRACK_LEFT_MARKS = [4772.38, 4797.93, 4852.07, 4880.34, 4909.19, 4938.4, 4965.87];
const DEPTH_TRACK_RIGHT_MARKS = [4808.85, 4911.87, 4964.86];
const SMALL_LABELS = [{text: '200', pos: 0.035, depth: 4824.5}, {text: '100', pos: 0.76, depth: 4856.8}];

// Curve name tags (pos in track divisions)
const LEFT_TAGS = [
  {text: '⟵Bit Size', pos: 1.99, depth: 4908.25, align: 'left'},
  {text: '⟵Density Caliper', pos: 1.95, depth: 4927.3, align: 'left'},
  {text: '⟵Gamma Ray', pos: 0.74, depth: 4934.9, align: 'left'},
  {text: 'DST Uphole Tension⟶', pos: 8.3, depth: 4938.7, align: 'right'}
];
const RIGHT_TAGS = [
  {text: 'Micro-inverse⟶', pos: 17.36, depth: 4912.1, align: 'right'},
  {text: 'Micro-normal⟶', pos: 15.8, depth: 4915.9, align: 'right'},
  {text: 'Limestone Density Por.⟶', pos: 10.09, depth: 4919.75, align: 'right'},
  {text: 'PE⟶', pos: 3.43, depth: 4923.4, align: 'right'},
  {text: 'Limestone Neutron Por ⟶', pos: 7.45, depth: 4931.0, align: 'right'}
];

// ---------------- layout ----------------
const DMIN = 4750, DMAX = 5000;     // depth axis range (multiples of 2, 10 and 50)
const PX_PER_FT = 9.587, Y_AT_4800 = 316.5;
const GRID_TOP = Y_AT_4800 - (4800 - DMIN) * PX_PER_FT;
const GRID_H = (DMAX - DMIN) * PX_PER_FT;
const GR_MAX = 150;
const FONT = '"Liberation Sans", Arial, "DejaVu Sans", sans-serif';

// stipple used for wrapped gamma ray and crossover shading
const stippleCanvas = document.createElement('canvas');
stippleCanvas.width = 4; stippleCanvas.height = 4;
(function () {
  const g = stippleCanvas.getContext('2d');
  g.fillStyle = '#e2e2e2'; g.fillRect(0, 0, 4, 4);
  g.fillStyle = '#5a5a5a'; g.fillRect(0, 0, 1, 1); g.fillRect(2, 2, 1, 1);
})();
const STIPPLE = {image: stippleCanvas, repeat: 'repeat'};

function interp(arr, d) {
  if (d <= arr[0][0]) return arr[0][1];
  for (let i = 1; i < arr.length; i++) {
    if (arr[i][0] >= d) {
      const a = arr[i - 1], b = arr[i];
      const t = (d - a[0]) / (b[0] - a[0]);
      return a[1] + t * (b[1] - a[1]);
    }
  }
  return arr[arr.length - 1][1];
}

// wrapped (backup) gamma ray runs: value - 150 while the curve is off scale
function backupRuns() {
  const runs = []; let run = null;
  GAMMA_RAY.forEach(([d, v]) => {
    if (v >= GR_MAX) {
      if (!run) { run = []; runs.push(run); }
      run.push([d, v - GR_MAX]);
    } else run = null;
  });
  return runs.filter(r => r.length > 2);
}

// polygons between density and neutron porosity where density reads higher
function crossoverPolys() {
  const polys = [];
  CROSSOVER_ZONES.forEach(([d0, d1]) => {
    const ds = Array.from(new Set([d0, d1].concat(NEUTRON_POR.map(p => p[0]), DENSITY_POR.map(p => p[0]))))
      .filter(d => d >= d0 && d <= d1).sort((a, b) => a - b);
    let run = null, prev = null;
    ds.forEach(d => {
      const n = interp(NEUTRON_POR, d), r = interp(DENSITY_POR, d), diff = r - n;
      if (prev && (prev.diff > 0) !== (diff > 0)) {
        const t = prev.diff / (prev.diff - diff);
        const dc = prev.d + t * (d - prev.d), vc = prev.n + t * (n - prev.n);
        if (run) { run.push([dc, vc, vc]); run = null; }
        else { run = [[dc, vc, vc]]; polys.push(run); }
      }
      if (diff > 0) {
        if (!run) { run = []; polys.push(run); }
        run.push([d, r, n]);
      }
      prev = {d, n, diff};
    });
  });
  return polys.filter(p => p.length > 1);
}

const toXY = arr => arr.map(([d, v]) => [v, d]);

function curve(name, xi, yi, data, lineStyle, extra) {
  return Object.assign({
    type: 'line', name, xAxisIndex: xi, yAxisIndex: yi, data: toXY(data),
    symbol: 'none', showSymbol: false, clip: true, z: 3, silent: true,
    lineStyle: Object.assign({cap: 'butt', join: 'round'}, lineStyle)
  }, extra || {});
}

function layer(xi, yi, items, z, build) {
  return {
    type: 'custom', xAxisIndex: xi, yAxisIndex: yi, z, silent: true, clip: false,
    data: items.map(() => [0, 4800]),
    renderItem: (params, api) => build(items[params.dataIndex], api)
  };
}

function depthAxis(gi, interval, color, width, show) {
  return {
    type: 'value', gridIndex: gi, inverse: true, min: DMIN, max: DMAX, interval,
    axisLine: {show: false}, axisTick: {show: false}, axisLabel: {show: false},
    splitLine: {show, lineStyle: {color, width}}
  };
}
function trackAxis(gi, min, max, extra) {
  return Object.assign({
    type: 'value', gridIndex: gi, min, max, position: 'top',
    axisLine: {show: false}, axisTick: {show: false}, axisLabel: {show: false},
    splitLine: {show: false}
  }, extra || {});
}

// the depth frame extends past the page edges, so the grids must not be fitted into the page
const gridBase = {top: GRID_TOP, height: GRID_H, containLabel: false, outerBoundsMode: 'none'};

const runs = backupRuns();
const xpolys = crossoverPolys();

const option = {
  animation: false,
  backgroundColor: '#ffffff',
  grid: [
    Object.assign({left: 19, width: 482, show: true, borderColor: '#000', borderWidth: 4, backgroundColor: 'transparent'}, gridBase),
    Object.assign({left: 646, width: 961, show: true, borderColor: '#000', borderWidth: 4, backgroundColor: 'transparent'}, gridBase),
    Object.assign({left: 501, width: 145, show: false}, gridBase)
  ],
  xAxis: [
    trackAxis(0, 0, GR_MAX, {interval: 15, splitLine: {show: true, lineStyle: {color: '#6c6c6c', width: 1.2}}}), // 0 gamma ray
    trackAxis(0, 6, 16),                                                                                      // 1 caliper
    trackAxis(0, 0, 10000),                                                                                   // 2 tension
    trackAxis(0, 0, 10, {interval: 5, splitLine: {show: true, lineStyle: {color: '#000', width: 2}}}),         // 3 track divisions
    trackAxis(1, -10, 30, {inverse: true}),                                                                   // 4 porosity
    trackAxis(1, 0, 20),                                                                                      // 5 PE
    trackAxis(1, -60, 20),                                                                                    // 6 micro log
    trackAxis(1, 0, 20, {interval: 1, splitLine: {show: true, lineStyle: {color: '#6c6c6c', width: 1.2}}}),   // 7 track divisions
    trackAxis(1, 0, 20, {interval: 5, splitLine: {show: true, lineStyle: {color: '#000', width: 2}}}),        // 8 heavy divisions
    trackAxis(2, 0, 1)                                                                                        // 9 depth track
  ],
  yAxis: [
    depthAxis(0, 2, '#4a4a4a', 1.3, true),
    depthAxis(0, 10, '#000', 2.4, true),
    depthAxis(0, 50, '#000', 3.8, true),
    depthAxis(1, 2, '#4a4a4a', 1.3, true),
    depthAxis(1, 10, '#000', 2.4, true),
    depthAxis(1, 50, '#000', 3.8, true),
    depthAxis(2, 50, '#000', 1, false)
  ],
  series: [
    // name tags on white boxes, under the curves
    layer(3, 0, LEFT_TAGS, 1, (t, api) => {
      const p = api.coord([t.pos, t.depth]);
      return {type: 'text', x: p[0], y: p[1], style: {
        text: t.text, font: '26px ' + FONT, fill: '#000', align: t.align, verticalAlign: 'middle',
        textAlign: t.align, textVerticalAlign: 'middle', backgroundColor: '#fff', padding: [1, 2]}};
    }),
    layer(7, 3, RIGHT_TAGS, 1, (t, api) => {
      const p = api.coord([t.pos, t.depth]);
      return {type: 'text', x: p[0], y: p[1], style: {
        text: t.text, font: '26px ' + FONT, fill: '#000', align: t.align, verticalAlign: 'middle',
        textAlign: t.align, textVerticalAlign: 'middle', backgroundColor: '#fff', padding: [1, 2]}};
    }),

    // wrapped gamma ray with stipple
    layer(0, 0, runs, 2, (run, api) => {
      const pts = run.map(([d, v]) => api.coord([v, d]));
      const base0 = api.coord([0, run[0][0]]), base1 = api.coord([0, run[run.length - 1][0]]);
      return {type: 'group', children: [
        {type: 'polygon', shape: {points: [base0].concat(pts, [base1])}, style: {fill: STIPPLE, stroke: null}},
        {type: 'polyline', shape: {points: pts}, style: {stroke: '#0ea00e', lineWidth: 3, fill: null}}
      ]};
    }),
    // density/neutron crossover shading
    layer(4, 3, xpolys, 2, (poly, api) => {
      const side1 = poly.map(([d, r]) => api.coord([r, d]));
      const side2 = poly.slice().reverse().map(([d, , n]) => api.coord([n, d]));
      return {type: 'polygon', shape: {points: side1.concat(side2)}, style: {fill: STIPPLE, stroke: null}};
    }),

    // left track
    curve('Bit Size', 1, 0, [[DMIN, BIT_SIZE], [DMAX, BIT_SIZE]], {color: '#222', width: 1.6}),
    curve('DST Uphole Tension', 2, 0, DST_TENSION, {color: '#b00000', width: 2, type: [3, 4]}),
    curve('Density Caliper', 1, 0, DENSITY_CALIPER, {color: '#ff1f8c', width: 3, type: [8, 4]}, {smooth: 0.3}),
    curve('Gamma Ray', 0, 0, GAMMA_RAY, {color: '#0ea00e', width: 3}, {smooth: 0.3}),

    // right track
    curve('PE', 5, 3, PE, {color: '#8a12b0', width: 2, type: [9, 5]}, {smooth: 0.3}),
    curve('Micro-normal', 6, 3, MICRO_NORMAL, {color: '#0000ff', width: 3, type: [2.5, 3]}),
    curve('Micro-inverse', 6, 3, MICRO_INVERSE, {color: '#0000ff', width: 1.8}),
    curve('Limestone Density Por.', 4, 3, DENSITY_POR, {color: '#0000ff', width: 3.5}, {smooth: 0.3}),
    curve('Limestone Neutron Por', 4, 3, NEUTRON_POR, {color: '#ff0000', width: 3.5, type: [11, 6]}, {smooth: 0.3}),

    // marks at the left edge of the log
    layer(3, 0, EDGE_MARKS, 4, (d, api) => {
      const a = api.coord([-0.31, d]), b = api.coord([0, d]);
      return {type: 'line', shape: {x1: a[0], y1: a[1], x2: b[0], y2: b[1]}, style: {stroke: '#000', lineWidth: 2.5}};
    }),
    // marks inside the depth track
    layer(9, 6, DEPTH_TRACK_LEFT_MARKS, 4, (d, api) => {
      const a = api.coord([0, d]), b = api.coord([0.1, d]);
      return {type: 'line', shape: {x1: a[0], y1: a[1], x2: b[0], y2: b[1]}, style: {stroke: '#000', lineWidth: 2}};
    }),
    layer(9, 6, DEPTH_TRACK_RIGHT_MARKS, 4, (d, api) => {
      const a = api.coord([0.89, d]), b = api.coord([1, d]);
      return {type: 'line', shape: {x1: a[0], y1: a[1], x2: b[0], y2: b[1]}, style: {stroke: '#000', lineWidth: 2}};
    }),
    // depth numbers
    layer(9, 6, DEPTH_LABELS.map((d, i) => ({d, major: DEPTH_LABEL_MAJOR[i]})), 4, (it, api) => {
      const p = api.coord([0.49, it.d]);
      return {type: 'text', x: p[0], y: p[1], style: {
        text: String(it.d), font: 'bold ' + (it.major ? 34 : 25) + 'px ' + FONT, fill: '#000',
        align: 'center', verticalAlign: 'middle', textAlign: 'center', textVerticalAlign: 'middle'}};
    }),
    // temperature boxes
    layer(9, 6, TEMP_DEPTHS.map((d, i) => ({d, t: TEMP_LABELS[i]})), 4, (it, api) => {
      const p = api.coord([0.5, it.d]);
      return {type: 'text', x: p[0], y: p[1], style: {
        text: it.t, font: '25px ' + FONT, fill: '#000', align: 'center', verticalAlign: 'middle',
        textAlign: 'center', textVerticalAlign: 'middle', backgroundColor: '#fff',
        borderColor: '#444', borderWidth: 1.3, padding: [2, 4, 1, 4]}};
    }),
    // small scale numbers
    layer(9, 6, SMALL_LABELS, 4, (it, api) => {
      const p = api.coord([it.pos, it.depth]);
      return {type: 'text', x: p[0], y: p[1], style: {
        text: it.text, font: 'bold 15px ' + FONT, fill: '#000', align: 'left', verticalAlign: 'middle',
        textAlign: 'left', textVerticalAlign: 'middle'}};
    })
  ]
};

const chart = echarts.init(document.getElementById('log'), null, {renderer: 'canvas', width: 1632, height: 2112});
chart.setOption(option);
</script>
</body>
</html>
